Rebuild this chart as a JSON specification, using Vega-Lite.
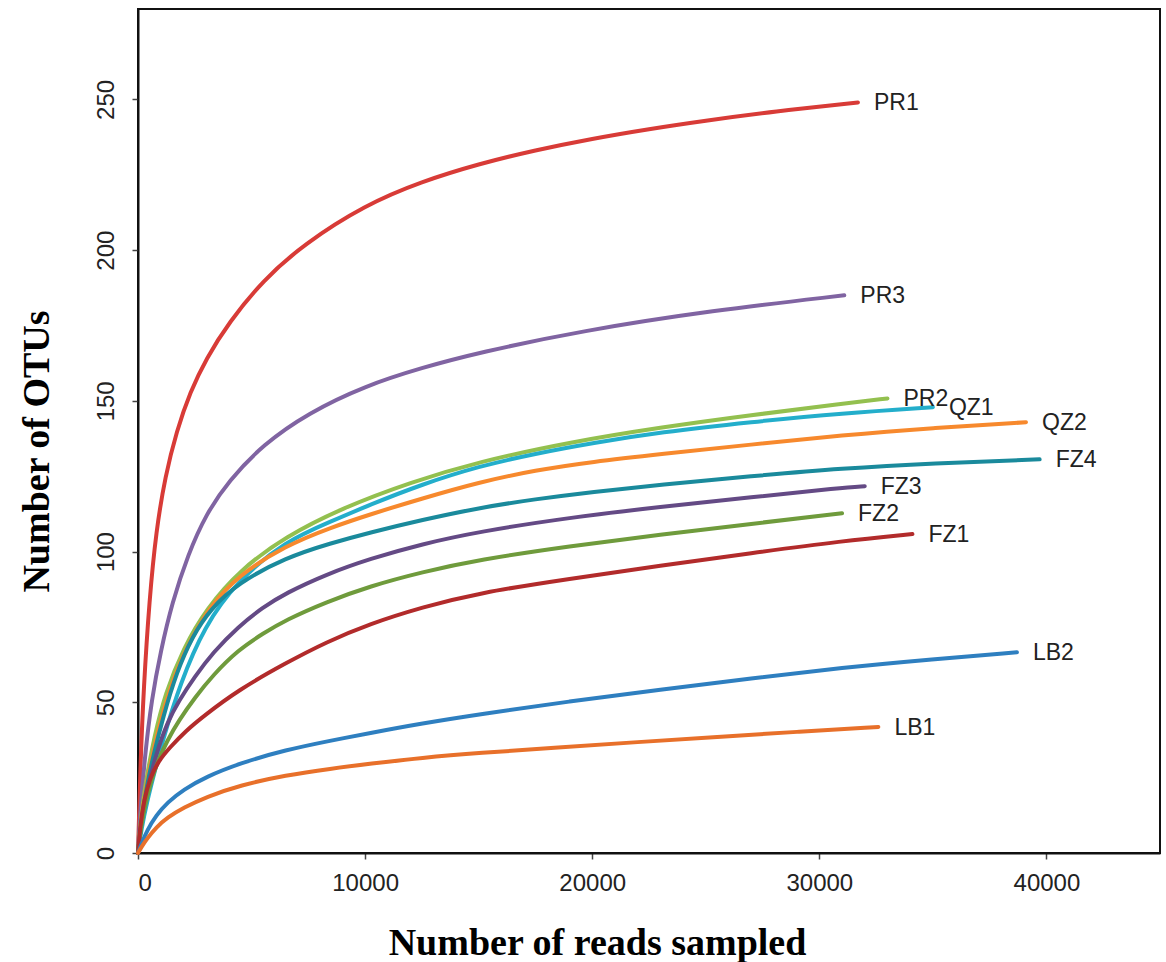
{
  "$schema": "https://vega.github.io/schema/vega-lite/v6.json",
  "autosize": {"type": "none"},
  "padding": {"left": 138, "top": 9, "right": 6, "bottom": 109},
  "width": 1022,
  "height": 844,
  "background": "white",
  "config": {
    "view": {"stroke": "#111", "strokeWidth": 2},
    "axis": {
      "grid": false,
      "domainColor": "#111",
      "domainWidth": 2,
      "tickColor": "#444",
      "tickWidth": 1.5,
      "tickSize": 6,
      "labelFont": "Liberation Sans",
      "labelFontSize": 24,
      "labelColor": "#222",
      "titleFont": "Liberation Serif",
      "titleFontSize": 38,
      "titleFontWeight": "bold",
      "titleColor": "#000"
    }
  },
  "datasets": {
    "curves": [
      {"s":"PR1","x":0,"y":0},{"s":"PR1","x":100,"y":28},{"s":"PR1","x":250,"y":55},{"s":"PR1","x":500,"y":84},{"s":"PR1","x":800,"y":107},{"s":"PR1","x":1200,"y":125},{"s":"PR1","x":1700,"y":140},{"s":"PR1","x":2300,"y":153},{"s":"PR1","x":3000,"y":164},{"s":"PR1","x":4000,"y":176},{"s":"PR1","x":5500,"y":190},{"s":"PR1","x":7300,"y":202},{"s":"PR1","x":10000,"y":215},{"s":"PR1","x":12500,"y":222.8},{"s":"PR1","x":15000,"y":228.6},{"s":"PR1","x":17500,"y":233.2},{"s":"PR1","x":20000,"y":237},{"s":"PR1","x":22500,"y":240.2},{"s":"PR1","x":25000,"y":243},{"s":"PR1","x":28000,"y":246},{"s":"PR1","x":31700,"y":249},
      {"s":"PR3","x":0,"y":0},{"s":"PR3","x":100,"y":14},{"s":"PR3","x":300,"y":32},{"s":"PR3","x":600,"y":51},{"s":"PR3","x":1000,"y":67},{"s":"PR3","x":1500,"y":83},{"s":"PR3","x":2200,"y":99},{"s":"PR3","x":3000,"y":112.5},{"s":"PR3","x":4000,"y":123.5},{"s":"PR3","x":5500,"y":135.5},{"s":"PR3","x":7500,"y":146},{"s":"PR3","x":10000,"y":155},{"s":"PR3","x":12500,"y":161},{"s":"PR3","x":15000,"y":166},{"s":"PR3","x":19500,"y":173.2},{"s":"PR3","x":25300,"y":180},{"s":"PR3","x":31100,"y":185},
      {"s":"PR2","x":0,"y":0},{"s":"PR2","x":150,"y":14},{"s":"PR2","x":400,"y":26},{"s":"PR2","x":700,"y":38},{"s":"PR2","x":1200,"y":53},{"s":"PR2","x":2000,"y":68},{"s":"PR2","x":3000,"y":81},{"s":"PR2","x":4500,"y":94},{"s":"PR2","x":6500,"y":105},{"s":"PR2","x":9000,"y":114.5},{"s":"PR2","x":12000,"y":123},{"s":"PR2","x":15000,"y":129.8},{"s":"PR2","x":19000,"y":136.3},{"s":"PR2","x":23000,"y":141.2},{"s":"PR2","x":27000,"y":145.3},{"s":"PR2","x":31000,"y":149},{"s":"PR2","x":33000,"y":150.8},
      {"s":"QZ1","x":0,"y":0},{"s":"QZ1","x":150,"y":8},{"s":"QZ1","x":400,"y":17},{"s":"QZ1","x":700,"y":26},{"s":"QZ1","x":1150,"y":39},{"s":"QZ1","x":1850,"y":56},{"s":"QZ1","x":2900,"y":75},{"s":"QZ1","x":4400,"y":90.5},{"s":"QZ1","x":6500,"y":103.5},{"s":"QZ1","x":8500,"y":110},{"s":"QZ1","x":10200,"y":115.5},{"s":"QZ1","x":12500,"y":122.3},{"s":"QZ1","x":15000,"y":128.3},{"s":"QZ1","x":17500,"y":132.5},{"s":"QZ1","x":20000,"y":136},{"s":"QZ1","x":23000,"y":139.6},{"s":"QZ1","x":27000,"y":143},{"s":"QZ1","x":31000,"y":145.9},{"s":"QZ1","x":35000,"y":147.9},
      {"s":"QZ2","x":0,"y":0},{"s":"QZ2","x":150,"y":12},{"s":"QZ2","x":400,"y":24},{"s":"QZ2","x":700,"y":35},{"s":"QZ2","x":1100,"y":47},{"s":"QZ2","x":1700,"y":61},{"s":"QZ2","x":2400,"y":72},{"s":"QZ2","x":3200,"y":82},{"s":"QZ2","x":4400,"y":92},{"s":"QZ2","x":6500,"y":102},{"s":"QZ2","x":8500,"y":108},{"s":"QZ2","x":10200,"y":112.3},{"s":"QZ2","x":12500,"y":117.6},{"s":"QZ2","x":15000,"y":123},{"s":"QZ2","x":17500,"y":127},{"s":"QZ2","x":20000,"y":129.8},{"s":"QZ2","x":23000,"y":132.3},{"s":"QZ2","x":27000,"y":135.5},{"s":"QZ2","x":31000,"y":138.6},{"s":"QZ2","x":35000,"y":141},{"s":"QZ2","x":39100,"y":142.9},
      {"s":"FZ4","x":0,"y":0},{"s":"FZ4","x":150,"y":11},{"s":"FZ4","x":400,"y":23},{"s":"FZ4","x":700,"y":33},{"s":"FZ4","x":1100,"y":45},{"s":"FZ4","x":1700,"y":60},{"s":"FZ4","x":2400,"y":72},{"s":"FZ4","x":3200,"y":81},{"s":"FZ4","x":4400,"y":89.5},{"s":"FZ4","x":6500,"y":98},{"s":"FZ4","x":8500,"y":102.8},{"s":"FZ4","x":10200,"y":106.3},{"s":"FZ4","x":12500,"y":110.5},{"s":"FZ4","x":15000,"y":114.5},{"s":"FZ4","x":17500,"y":117.4},{"s":"FZ4","x":20000,"y":119.8},{"s":"FZ4","x":23000,"y":122.2},{"s":"FZ4","x":27000,"y":125},{"s":"FZ4","x":31000,"y":127.6},{"s":"FZ4","x":35000,"y":129.3},{"s":"FZ4","x":39700,"y":130.6},
      {"s":"FZ3","x":0,"y":0},{"s":"FZ3","x":150,"y":11},{"s":"FZ3","x":400,"y":21},{"s":"FZ3","x":800,"y":33},{"s":"FZ3","x":1300,"y":43.5},{"s":"FZ3","x":1800,"y":50.5},{"s":"FZ3","x":2500,"y":58.5},{"s":"FZ3","x":3300,"y":66.5},{"s":"FZ3","x":4400,"y":75},{"s":"FZ3","x":5500,"y":81.5},{"s":"FZ3","x":6500,"y":86.2},{"s":"FZ3","x":8300,"y":92.5},{"s":"FZ3","x":10200,"y":97.6},{"s":"FZ3","x":12500,"y":102.5},{"s":"FZ3","x":15000,"y":106.6},{"s":"FZ3","x":19000,"y":111.3},{"s":"FZ3","x":23000,"y":114.8},{"s":"FZ3","x":27000,"y":118},{"s":"FZ3","x":31000,"y":121.2},{"s":"FZ3","x":32000,"y":121.7},
      {"s":"FZ2","x":0,"y":0},{"s":"FZ2","x":150,"y":10},{"s":"FZ2","x":400,"y":19},{"s":"FZ2","x":800,"y":29.5},{"s":"FZ2","x":1300,"y":37.5},{"s":"FZ2","x":1800,"y":44},{"s":"FZ2","x":2500,"y":51.5},{"s":"FZ2","x":3300,"y":59},{"s":"FZ2","x":4400,"y":67.3},{"s":"FZ2","x":5500,"y":72.8},{"s":"FZ2","x":6500,"y":77.3},{"s":"FZ2","x":8300,"y":83.3},{"s":"FZ2","x":10200,"y":88.5},{"s":"FZ2","x":12500,"y":93.2},{"s":"FZ2","x":15000,"y":97.3},{"s":"FZ2","x":19000,"y":101.8},{"s":"FZ2","x":23000,"y":105.6},{"s":"FZ2","x":27000,"y":109.2},{"s":"FZ2","x":31000,"y":112.7},
      {"s":"FZ1","x":0,"y":0},{"s":"FZ1","x":100,"y":9},{"s":"FZ1","x":250,"y":17},{"s":"FZ1","x":530,"y":25},{"s":"FZ1","x":900,"y":30.5},{"s":"FZ1","x":1400,"y":35},{"s":"FZ1","x":2100,"y":40.5},{"s":"FZ1","x":2900,"y":45.5},{"s":"FZ1","x":4400,"y":54},{"s":"FZ1","x":6500,"y":63},{"s":"FZ1","x":8300,"y":70},{"s":"FZ1","x":10200,"y":76},{"s":"FZ1","x":12500,"y":81.5},{"s":"FZ1","x":15000,"y":86.3},{"s":"FZ1","x":19000,"y":91},{"s":"FZ1","x":23000,"y":95.3},{"s":"FZ1","x":27000,"y":99.5},{"s":"FZ1","x":31000,"y":103.5},{"s":"FZ1","x":34100,"y":105.8},
      {"s":"LB2","x":0,"y":0},{"s":"LB2","x":150,"y":3},{"s":"LB2","x":400,"y":7.5},{"s":"LB2","x":800,"y":12.5},{"s":"LB2","x":1300,"y":16.8},{"s":"LB2","x":2000,"y":21},{"s":"LB2","x":3000,"y":25.3},{"s":"LB2","x":4500,"y":29.8},{"s":"LB2","x":6500,"y":34.2},{"s":"LB2","x":8500,"y":37.3},{"s":"LB2","x":10200,"y":39.8},{"s":"LB2","x":12500,"y":43},{"s":"LB2","x":15000,"y":46},{"s":"LB2","x":19000,"y":50.3},{"s":"LB2","x":23000,"y":54.2},{"s":"LB2","x":27000,"y":57.9},{"s":"LB2","x":31000,"y":61.5},{"s":"LB2","x":35000,"y":64.3},{"s":"LB2","x":38700,"y":66.6},
      {"s":"LB1","x":0,"y":0},{"s":"LB1","x":150,"y":2},{"s":"LB1","x":400,"y":4.8},{"s":"LB1","x":800,"y":8.5},{"s":"LB1","x":1300,"y":11.8},{"s":"LB1","x":2000,"y":15},{"s":"LB1","x":3000,"y":18.6},{"s":"LB1","x":4500,"y":22.5},{"s":"LB1","x":6500,"y":25.8},{"s":"LB1","x":8500,"y":28},{"s":"LB1","x":10200,"y":29.6},{"s":"LB1","x":12500,"y":31.6},{"s":"LB1","x":15000,"y":33.2},{"s":"LB1","x":18500,"y":35},{"s":"LB1","x":22000,"y":36.8},{"s":"LB1","x":25500,"y":38.5},{"s":"LB1","x":29000,"y":40.2},{"s":"LB1","x":32600,"y":41.8}
    ]
  },
  "data": {"name": "curves"},
  "encoding": {
    "x": {
      "field": "x", "type": "quantitative",
      "scale": {"domain": [0, 45000], "nice": false},
      "axis": {
        "title": "Number of reads sampled",
        "values": [0, 10000, 20000, 30000, 40000],
        "format": "d",
        "labelPadding": 12,
        "titleX": 459,
        "titleY": 101,
        "titleBaseline": "alphabetic",
        "titleAlign": "center"
      }
    },
    "y": {
      "field": "y", "type": "quantitative",
      "scale": {"domain": [0, 280], "nice": false},
      "axis": {
        "title": "Number of OTUs",
        "values": [0, 50, 100, 150, 200, 250],
        "labelAngle": -90,
        "labelAlign": "center",
        "labelBaseline": "bottom",
        "labelPadding": 14,
        "titleAngle": -90,
        "titleX": -90,
        "titleY": 442,
        "titleBaseline": "alphabetic",
        "titleAlign": "center"
      }
    },
    "color": {
      "field": "s", "type": "nominal", "legend": null,
      "scale": {
        "domain": ["PR1","PR3","PR2","QZ1","QZ2","FZ4","FZ3","FZ2","FZ1","LB2","LB1"],
        "range": ["#d83b37","#8064a2","#93c04f","#23aecb","#f7892d","#1a8a9c","#644a85","#6f9b3c","#b22b2b","#2e7fc0","#e8702a"]
      }
    }
  },
  "layer": [
    {
      "mark": {"type": "line", "strokeWidth": 4, "interpolate": "basis", "strokeCap": "round"},
      "encoding": {"order": {"field": "x", "type": "quantitative"}}
    },
    {
      "transform": [
        {"joinaggregate": [{"op": "max", "field": "x", "as": "maxx"}], "groupby": ["s"]},
        {"filter": "datum.x === datum.maxx"}
      ],
      "mark": {"type": "text", "align": "left", "baseline": "middle", "dx": 16, "dy": 1, "font": "Liberation Sans", "fontSize": 23, "fill": "#222"},
      "encoding": {"text": {"field": "s"}, "color": {"value": "#222"}}
    }
  ]
}
